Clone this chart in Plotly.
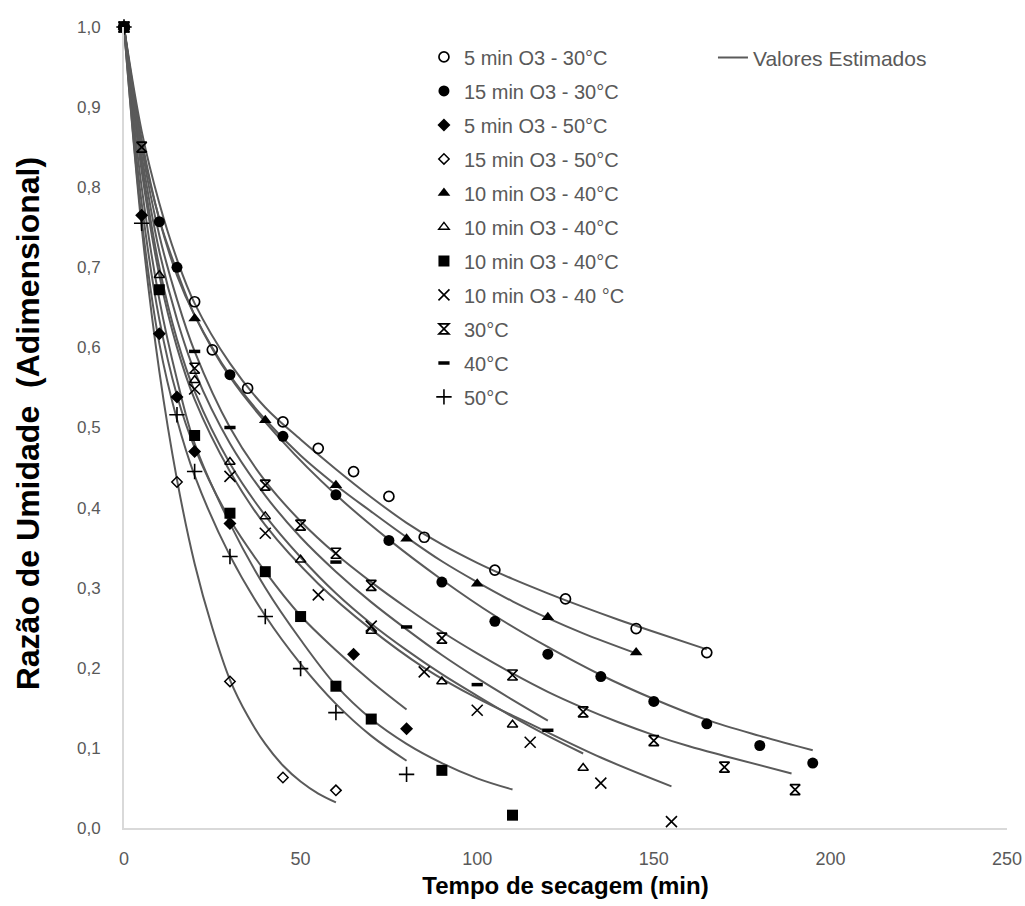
import plotly.graph_objects as go

# ---------------- measured moisture ratio (MR) per treatment ----------------
t_o3_5_30 = [0, 20, 25, 35, 45, 55, 65, 75, 85, 105, 125, 145, 165]
mr_o3_5_30 = [1.0, 0.657, 0.597, 0.549, 0.507, 0.474, 0.445, 0.414, 0.363, 0.322, 0.286, 0.249, 0.219]

t_o3_15_30 = [0, 10, 15, 30, 45, 60, 75, 90, 105, 120, 135, 150, 165, 180, 195]
mr_o3_15_30 = [1.0, 0.757, 0.70, 0.566, 0.489, 0.416, 0.359, 0.307, 0.258, 0.217, 0.189, 0.158, 0.130, 0.103, 0.081]

t_o3_5_50 = [0, 5, 10, 15, 20, 30, 65, 80]
mr_o3_5_50 = [1.0, 0.765, 0.617, 0.538, 0.47, 0.38, 0.217, 0.124]

t_o3_15_50 = [0, 15, 30, 45, 60]
mr_o3_15_50 = [1.0, 0.432, 0.183, 0.063, 0.047]

t_o3_10_40_a = [0, 20, 40, 60, 80, 100, 120, 145]
mr_o3_10_40_a = [1.0, 0.636, 0.509, 0.428, 0.361, 0.305, 0.263, 0.219]

t_o3_10_40_b = [0, 10, 20, 30, 40, 50, 70, 90, 110, 130]
mr_o3_10_40_b = [1.0, 0.69, 0.559, 0.457, 0.389, 0.335, 0.246, 0.183, 0.129, 0.075]

t_o3_10_40_c = [0, 10, 20, 30, 40, 50, 60, 70, 90, 110]
mr_o3_10_40_c = [1.0, 0.672, 0.49, 0.393, 0.32, 0.264, 0.177, 0.136, 0.072, 0.016]

t_o3_10_40_d = [0, 20, 30, 40, 55, 70, 85, 100, 115, 135, 155]
mr_o3_10_40_d = [1.0, 0.548, 0.439, 0.368, 0.291, 0.252, 0.195, 0.147, 0.107, 0.056, 0.008]

t_30 = [0, 5, 20, 40, 50, 60, 70, 90, 110, 130, 150, 170, 190]
mr_30 = [1.0, 0.85, 0.574, 0.428, 0.378, 0.343, 0.303, 0.237, 0.191, 0.145, 0.109, 0.076, 0.048]

t_40 = [0, 20, 30, 60, 80, 100, 120]
mr_40 = [1.0, 0.595, 0.50, 0.332, 0.251, 0.179, 0.122]

t_50 = [0, 5, 15, 20, 30, 40, 50, 60, 80]
mr_50 = [1.0, 0.755, 0.516, 0.445, 0.339, 0.264, 0.199, 0.144, 0.067]

# ---------------- model-estimated MR curves ----------------
te_o3_5_30 = [0, 5, 10, 15, 20, 30, 40, 50, 60, 70, 80, 90, 100, 110, 120, 130, 140, 150, 165]
est_o3_5_30 = [1.0, 0.87, 0.78, 0.71, 0.655, 0.58, 0.525, 0.485, 0.448, 0.413, 0.381, 0.354, 0.331, 0.311, 0.293, 0.276, 0.26, 0.245, 0.223]

te_o3_15_30 = [0, 5, 10, 15, 20, 30, 45, 60, 75, 90, 105, 120, 135, 150, 165, 180, 195]
est_o3_15_30 = [1.0, 0.855, 0.76, 0.695, 0.64, 0.563, 0.482, 0.416, 0.36, 0.31, 0.265, 0.226, 0.191, 0.161, 0.135, 0.115, 0.097]

te_o3_5_50 = [0, 5, 10, 15, 20, 30, 40, 50, 60, 70, 80]
est_o3_5_50 = [1.0, 0.78, 0.635, 0.54, 0.475, 0.385, 0.32, 0.265, 0.222, 0.183, 0.148]

te_o3_15_50 = [0, 5, 10, 15, 20, 25, 30, 35, 40, 45, 50, 55, 60]
est_o3_15_50 = [1.0, 0.75, 0.57, 0.435, 0.33, 0.25, 0.185, 0.14, 0.105, 0.078, 0.058, 0.043, 0.032]

te_o3_10_40_a = [0, 5, 10, 15, 20, 30, 40, 50, 60, 70, 80, 90, 100, 110, 120, 130, 145]
est_o3_10_40_a = [1.0, 0.86, 0.76, 0.69, 0.64, 0.565, 0.51, 0.465, 0.428, 0.395, 0.363, 0.333, 0.307, 0.283, 0.262, 0.243, 0.218]

te_o3_10_40_b = [0, 5, 10, 15, 20, 30, 40, 50, 60, 70, 80, 90, 100, 110, 120, 130]
est_o3_10_40_b = [1.0, 0.83, 0.7, 0.61, 0.545, 0.455, 0.39, 0.338, 0.293, 0.255, 0.222, 0.192, 0.165, 0.139, 0.115, 0.093]

te_o3_10_40_c = [0, 5, 10, 15, 20, 30, 40, 50, 60, 70, 80, 90, 100, 110]
est_o3_10_40_c = [1.0, 0.8, 0.66, 0.56, 0.48, 0.38, 0.3, 0.235, 0.178, 0.136, 0.105, 0.081, 0.062, 0.048]

te_o3_10_40_d = [0, 5, 10, 15, 20, 30, 40, 55, 70, 85, 100, 115, 135, 155]
est_o3_10_40_d = [1.0, 0.82, 0.69, 0.6, 0.535, 0.445, 0.378, 0.305, 0.248, 0.2, 0.162, 0.13, 0.088, 0.052]

te_30 = [0, 5, 10, 15, 20, 30, 40, 50, 60, 70, 80, 90, 100, 110, 120, 130, 140, 150, 160, 170, 189]
est_30 = [1.0, 0.85, 0.74, 0.66, 0.595, 0.5, 0.433, 0.383, 0.342, 0.307, 0.275, 0.245, 0.218, 0.193, 0.17, 0.15, 0.132, 0.116, 0.102, 0.09, 0.068]

te_40 = [0, 5, 10, 15, 20, 30, 40, 50, 60, 70, 80, 90, 100, 110, 120]
est_40 = [1.0, 0.84, 0.72, 0.635, 0.57, 0.48, 0.415, 0.363, 0.32, 0.282, 0.248, 0.216, 0.187, 0.16, 0.134]

te_50 = [0, 5, 10, 15, 20, 30, 40, 50, 60, 70, 80]
est_50 = [1.0, 0.76, 0.605, 0.51, 0.44, 0.34, 0.265, 0.205, 0.155, 0.115, 0.084]

x_ticks = [0, 50, 100, 150, 200, 250]
y_ticks = [0.0, 0.1, 0.2, 0.3, 0.4, 0.5, 0.6, 0.7, 0.8, 0.9, 1.0]

INK = "#000000"
LINE = "#5a5a5a"
TXT = "#595959"
FONT = "Liberation Sans, Arial, sans-serif"

fig = go.Figure()

# fitted curves (drawn beneath the observations)
curves = [
    (te_o3_5_30, est_o3_5_30), (te_o3_15_30, est_o3_15_30), (te_o3_5_50, est_o3_5_50),
    (te_o3_15_50, est_o3_15_50), (te_o3_10_40_a, est_o3_10_40_a), (te_o3_10_40_b, est_o3_10_40_b),
    (te_o3_10_40_c, est_o3_10_40_c), (te_o3_10_40_d, est_o3_10_40_d), (te_30, est_30),
    (te_40, est_40), (te_50, est_50),
]
for i, (tx, ty) in enumerate(curves):
    fig.add_trace(go.Scatter(
        x=tx, y=ty, mode="lines", line=dict(color=LINE, width=2, shape="spline", smoothing=1.0),
        name="Valores Estimados", legend="legend2", showlegend=(i == 0),
        hoverinfo="skip", cliponaxis=False,
    ))

# observations
series = [
    ("5 min O3 - 30°C", t_o3_5_30, mr_o3_5_30, "circle-open", 10, 1.7),
    ("15 min O3 - 30°C", t_o3_15_30, mr_o3_15_30, "circle", 11, 0),
    ("5 min O3 - 50°C", t_o3_5_50, mr_o3_5_50, "diamond", 10, 0),
    ("15 min O3 - 50°C", t_o3_15_50, mr_o3_15_50, "diamond-open", 8, 1.5),
    ("10 min O3 - 40°C", t_o3_10_40_a, mr_o3_10_40_a, "triangle-up", 11, 0),
    ("10 min O3 - 40°C", t_o3_10_40_b, mr_o3_10_40_b, "triangle-up-open", 9, 1.5),
    ("10 min O3 - 40°C", t_o3_10_40_c, mr_o3_10_40_c, "square", 11, 0),
    ("10 min O3 - 40 °C", t_o3_10_40_d, mr_o3_10_40_d, "x-thin-open", 11, 1.6),
    ("30°C", t_30, mr_30, "hourglass-open", 10, 1.7),
    ("40°C", t_40, mr_40, "line-ew-open", 8, 3.5),
    ("50°C", t_50, mr_50, "cross-thin-open", 11, 1.6),
]
for k, (name, tx, ty, sym, size, lw) in enumerate(series):
    fig.add_trace(go.Scatter(
        x=tx, y=ty, mode="markers", name=name, legend="legend", legendgroup=f"g{k}",
        marker=dict(symbol=sym, size=size, color=INK, line=dict(color=INK, width=lw)),
        cliponaxis=False,
    ))

fig.update_layout(
    width=1025, height=906,
    margin=dict(l=124, r=18, t=27, b=78),
    paper_bgcolor="white", plot_bgcolor="white",
    separators=",.",
    font=dict(family=FONT, color=TXT, size=17),
    showlegend=True,
    legend=dict(
        x=0.3397, y=0.987, xanchor="left", yanchor="top",
        bgcolor="rgba(0,0,0,0)", font=dict(size=20, color=TXT, family=FONT),
        tracegroupgap=5, itemwidth=30,
    ),
    legend2=dict(
        x=0.667, y=0.987, xanchor="left", yanchor="top",
        bgcolor="rgba(0,0,0,0)", font=dict(size=21, color=TXT, family=FONT),
    ),
    xaxis=dict(
        range=[0, 250], tickvals=x_ticks, ticks="", showgrid=False, zeroline=False,
        showline=True, linecolor="#d9d9d9", linewidth=2, automargin=False,
        tickfont=dict(size=18, color=TXT, family=FONT), ticklabelstandoff=13,
        title=dict(text="<b>Tempo de secagem (min)</b>", font=dict(size=24, color="#000000", family=FONT), standoff=10),
    ),
    yaxis=dict(
        range=[0, 1.0], tickvals=y_ticks, tickformat=".1f", ticks="", showgrid=False, zeroline=False,
        showline=True, linecolor="#d9d9d9", linewidth=2, automargin=False,
        tickfont=dict(size=17, color=TXT, family=FONT), ticklabelstandoff=18,
    ),
    annotations=[dict(
        text="<b>Razão de Umidade  (Adimensional)</b>", textangle=-90,
        xref="paper", yref="paper", x=-0.1087, y=0.504, xanchor="center", yanchor="middle",
        showarrow=False, font=dict(size=32, color="#000000", family=FONT),
    )],
)

fig.write_html("out.html")
